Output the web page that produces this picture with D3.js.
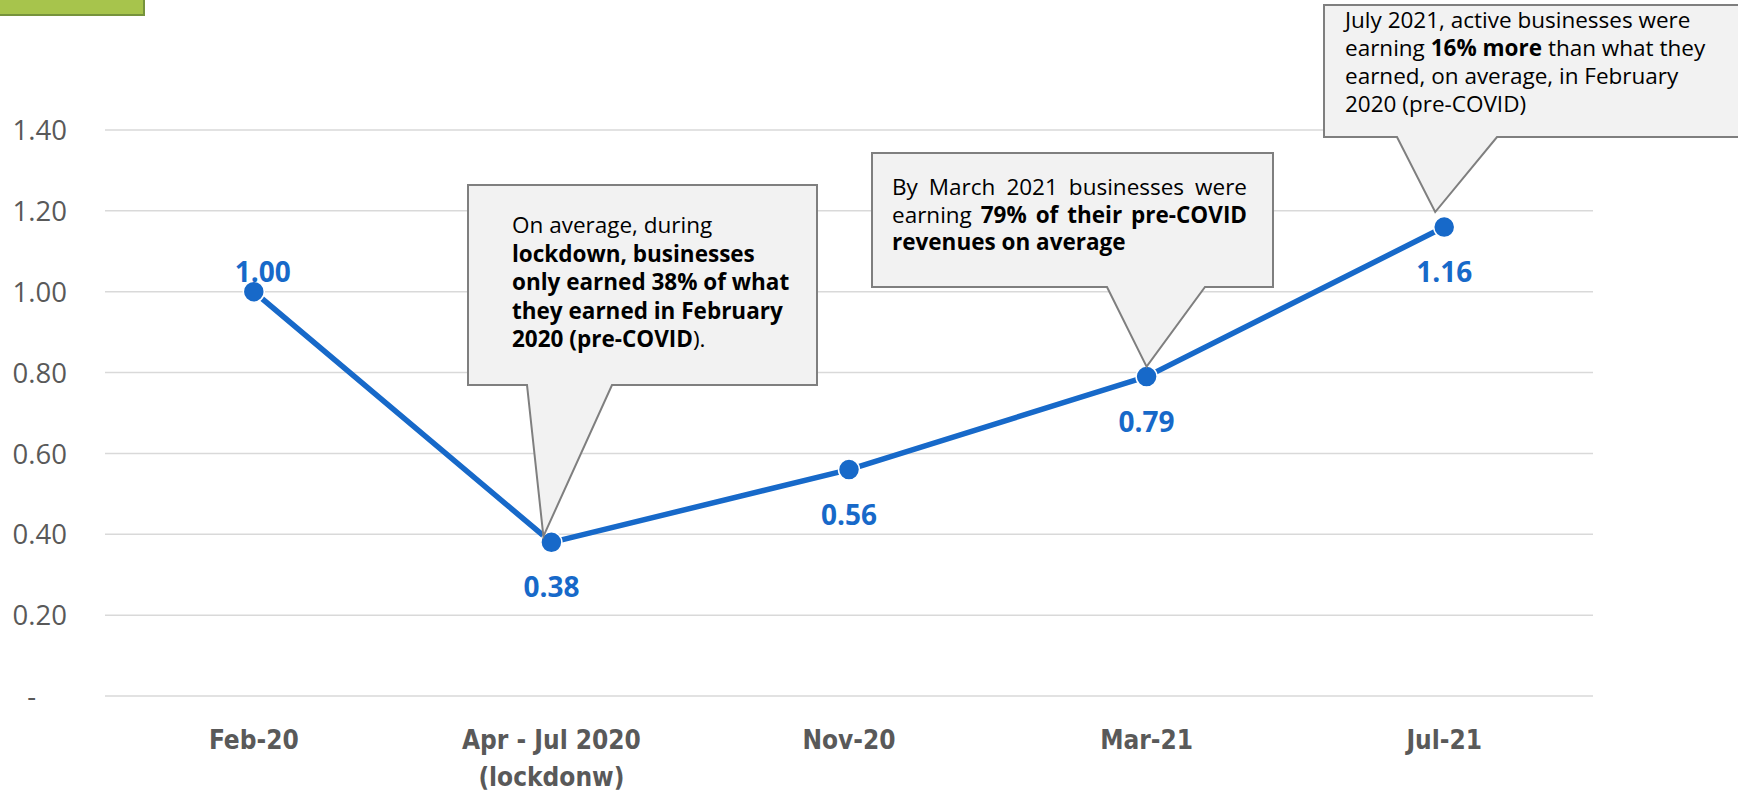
<!DOCTYPE html>
<html>
<head>
<meta charset="utf-8">
<script src="https://cdn.jsdelivr.net/npm/d3@7"></script>
<style>
  body { margin: 0; background: #fff; }
  svg { display: block; }
</style>
</head>
<body>
<script>
// data
const categories = ["Feb-20", "Apr - Jul 2020", "Nov-20", "Mar-21", "Jul-21"];
const categorySub = ["", "(lockdonw)", "", "", ""];
const values = [1.00, 0.38, 0.56, 0.79, 1.16];
const yTicks = [0, 0.2, 0.4, 0.6, 0.8, 1.0, 1.2, 1.4];

// callout texts, [text, bold] segments per line
const note1 = [
  [["On average, during", false]],
  [["lockdown, businesses", true]],
  [["only earned 38% of what", true]],
  [["they earned in February", true]],
  [["2020 (pre-COVID", true], [").", false]]
];
const note2 = [
  [["By March 2021 businesses were", false]],
  [["earning ", false], ["79% of their pre-COVID", true]],
  [["revenues on average", true]]
];
const note3 = [
  [["July 2021, active businesses were", false]],
  [["earning ", false], ["16% more", true], [" than what they", false]],
  [["earned, on average, in February", false]],
  [["2020 (pre-COVID)", false]]
];

const W = 1738, H = 795;
const blue = "#1769c9";
const font = "'Open Sans', 'Noto Sans', sans-serif";
const noteSize = 22.5;

const svg = d3.select("body").append("svg")
  .attr("width", W)
  .attr("height", H);

// green tab top left
svg.append("rect")
  .attr("x", -2).attr("y", -2)
  .attr("width", 146).attr("height", 17)
  .attr("fill", "#a7c44c")
  .attr("stroke", "#76933c")
  .attr("stroke-width", 2);

const x = d3.scaleBand()
  .domain(categories)
  .range([105, 1593]);
const cx = d => x(d) + x.bandwidth() / 2;

const y = d3.scaleLinear()
  .domain([0, 1.4])
  .range([696, 130]);

// grid lines
svg.append("g")
  .selectAll("line")
  .data(yTicks)
  .enter()
  .append("line")
  .attr("x1", 105).attr("x2", 1593)
  .attr("y1", d => y(d)).attr("y2", d => y(d))
  .attr("stroke", "#d9d9d9")
  .attr("stroke-width", 1.5);

// y axis labels
const yAxis = d3.axisLeft(y)
  .tickValues(yTicks)
  .tickSize(0)
  .tickPadding(0)
  .tickFormat(d => d === 0 ? "-" : d3.format(".2f")(d));
const gy = svg.append("g")
  .attr("transform", "translate(67,0)")
  .call(yAxis);
gy.select(".domain").remove();
gy.selectAll("text")
  .attr("font-family", font)
  .attr("font-size", 27.5)
  .attr("fill", "#595959")
  .attr("dy", "0.35em")
  .attr("dx", d => d === 0 ? -31 : 0);

// x axis labels
const xl = svg.append("g")
  .selectAll("text")
  .data(categories)
  .enter()
  .append("text")
  .attr("x", d => cx(d))
  .attr("y", 749)
  .attr("text-anchor", "middle")
  .attr("font-family", "'Liberation Sans Narrow', 'DejaVu Sans Condensed', sans-serif")
  .attr("font-weight", "bold")
  .attr("font-size", 26)
  .attr("fill", "#595959");
xl.append("tspan").text(d => d);
xl.append("tspan")
  .attr("x", d => cx(d))
  .attr("dy", 37)
  .text((d, i) => categorySub[i]);

// line
const line = d3.line()
  .x((d, i) => cx(categories[i]))
  .y(d => y(d));
svg.append("path")
  .datum(values)
  .attr("d", line)
  .attr("fill", "none")
  .attr("stroke", blue)
  .attr("stroke-width", 5.5)
  .attr("stroke-linejoin", "round");

svg.append("g")
  .selectAll("circle")
  .data(values)
  .enter()
  .append("circle")
  .attr("cx", (d, i) => cx(categories[i]))
  .attr("cy", d => y(d))
  .attr("r", 10.5)
  .attr("fill", blue)
  .attr("stroke", "#fff")
  .attr("stroke-width", 1.5);

// data labels: first one above, others below
svg.append("g")
  .selectAll("text")
  .data(values)
  .enter()
  .append("text")
  .attr("x", (d, i) => cx(categories[i]) + (i === 0 ? 9 : 0))
  .attr("y", (d, i) => y(d) + (i === 0 ? -10 : 55))
  .attr("text-anchor", "middle")
  .attr("font-family", font)
  .attr("font-weight", "bold")
  .attr("font-size", 28)
  .attr("fill", blue)
  .text(d => d3.format(".2f")(d));

// callouts
function callout(box, idx, tipOff, lines, textX, textY0, lineH, justify) {
  const px = cx(categories[idx]) + tipOff[0];
  const py = y(values[idx]) + tipOff[1];
  const p = `M${box.x0},${box.y0}H${box.x1}V${box.y1}H${box.b1}L${px},${py}L${box.b0},${box.y1}H${box.x0}Z`;
  svg.append("path")
    .attr("d", p)
    .attr("fill", "#f2f2f2")
    .attr("stroke", "#7f7f7f")
    .attr("stroke-width", 2);

  lines.forEach((segs, li) => {
    const ty = textY0 + li * lineH;
    if (justify && justify[li]) {
      // spread words across the width
      const words = [];
      segs.forEach(s => s[0].split(" ").filter(w => w).forEach(w => words.push([w, s[1]])));
      const els = words.map(w => svg.append("text")
        .attr("y", ty)
        .attr("font-family", font)
        .attr("font-size", noteSize)
        .attr("font-weight", w[1] ? "bold" : "normal")
        .attr("fill", "#000")
        .text(w[0]));
      const widths = els.map(e => e.node().getComputedTextLength());
      const gap = (justify[li] - textX - d3.sum(widths)) / (words.length - 1);
      let cur = textX;
      els.forEach((e, k) => { e.attr("x", cur); cur += widths[k] + gap; });
    } else {
      const t = svg.append("text")
        .attr("x", textX)
        .attr("y", ty)
        .attr("font-family", font)
        .attr("font-size", noteSize)
        .attr("fill", "#000")
        .attr("xml:space", "preserve");
      segs.forEach(s => t.append("tspan")
        .attr("font-weight", s[1] ? "bold" : "normal")
        .text(s[0]));
    }
  });
}

callout({x0: 468, x1: 817, y0: 185, y1: 385, b0: 527, b1: 612}, 1, [-8, -6],
  note1, 512, 233, 28.5, null);
callout({x0: 872, x1: 1273, y0: 153, y1: 287, b0: 1107, b1: 1205}, 3, [0, -10],
  note2, 892, 195, 27.5, [1247, 1247, 0]);
callout({x0: 1324, x1: 1750, y0: 5, y1: 137, b0: 1397, b1: 1497}, 4, [-9, -15],
  note3, 1345, 28, 28, null);
</script>
</body>
</html>
